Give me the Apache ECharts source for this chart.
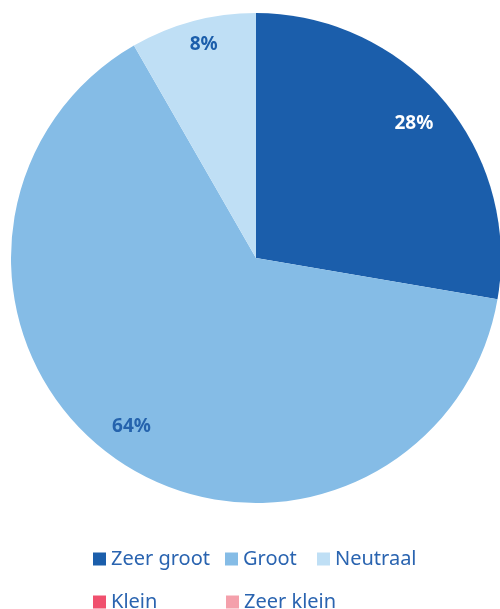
<!DOCTYPE html>
<html>
<head>
<meta charset="utf-8">
<style>html,body{margin:0;padding:0;background:#fff;}#c{width:500px;height:609px;}</style>
<script src="https://cdn.jsdelivr.net/npm/echarts@6/dist/echarts.min.js"></script>
</head>
<body>
<div id="c"></div>
<script>
const categories = ['Zeer groot', 'Groot', 'Neutraal', 'Klein', 'Zeer klein'];
const values = [27.7, 64.0, 8.3, 0, 0];
const colors = ['#1b5eab', '#85bce6', '#bfdff5', '#f0506e', '#f4a0ab'];
const labelColors = ['#ffffff', '#2563ad', '#1b5eab', '#1b5eab', '#1b5eab'];

const labelOffsets = [[-3, 1], [-4, -4], [2, -10], [0, 0], [0, 0]];
const chart = echarts.init(document.getElementById('c'));
const data = categories.map((n, i) => ({ name: n, value: values[i], itemStyle: { color: colors[i] } }));
const labelData = categories.map((n, i) => ({
  name: n, value: values[i],
  label: { color: labelColors[i], offset: labelOffsets[i] }
}));
const legendPos = [[93, 549], [225, 549], [317, 549], [93, 592], [226, 592]];
const legends = categories.map((n, i) => ({
  data: [n], left: legendPos[i][0], top: legendPos[i][1],
  icon: 'rect', itemWidth: 13, itemHeight: 13, itemGap: 8, padding: 0,
  textStyle: { color: '#2a64b0', fontSize: 20, fontFamily: 'Noto Sans' },
  selectedMode: false
}));
chart.setOption({
  animation: false,
  legend: legends,
  series: [
    {
      type: 'pie', center: [256, 258], radius: 245, startAngle: 90, clockwise: true,
      data: data, label: { show: false }, labelLine: { show: false },
      itemStyle: { borderWidth: 0 }
    },
    {
      type: 'pie', center: [256, 258], radius: [170, 245], startAngle: 90, clockwise: true,
      silent: true, legendHoverLink: false,
      itemStyle: { color: 'rgba(0,0,0,0)' },
      data: labelData,
      label: {
        show: true, position: 'inside', fontSize: 19, fontWeight: 'bold', fontFamily: 'Noto Sans',
        formatter: p => p.value > 0 ? Math.round(p.value) + '%' : ''
      },
      labelLine: { show: false }
    }
  ]
});
</script>
</body>
</html>
